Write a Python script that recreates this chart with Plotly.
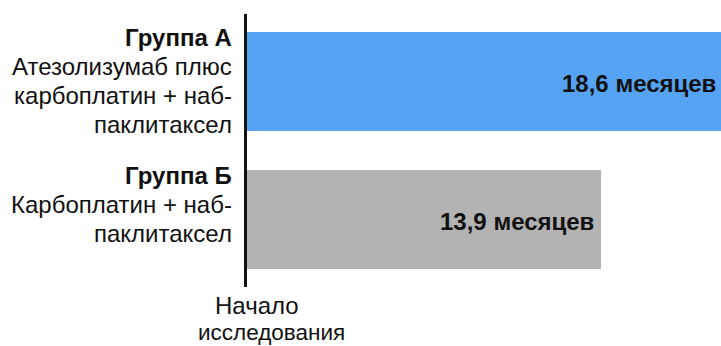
import plotly.graph_objects as go

categories = ["Группа Б", "Группа А"]
values = [13.9, 18.6]
value_labels = ["13,9 месяцев", "18,6 месяцев"]
bar_colors = ["#B3B3B3", "#55A3F2"]
group_titles = ["Группа Б", "Группа А"]
group_desc = [["Карбоплатин + наб-", "паклитаксел"],
              ["Атезолизумаб плюс", "карбоплатин + наб-", "паклитаксел"]]
axis_label = ["Начало", "исследования"]

FONT = "Liberation Sans, Arial, sans-serif"
FS = 24

fig = go.Figure()
fig.add_trace(go.Bar(
    y=list(range(len(categories))), x=values, orientation="h",
    marker=dict(color=bar_colors, line=dict(width=0)),
    width=0.713, hoverinfo="skip", showlegend=False,
))

ann = []
for i, (v, lab) in enumerate(zip(values, value_labels)):
    ann.append(dict(x=v, y=i, xref="x", yref="y", text="<b>" + lab + "</b>",
                    showarrow=False, xanchor="right", yanchor="middle",
                    xshift=-5 if i == 0 else -3, yshift=-2,
                    font=dict(size=FS, color="#111111", family=FONT)))
    lines = ["<b>" + group_titles[i] + "</b>"] + group_desc[i]
    for k, t in enumerate(lines):
        ann.append(dict(x=0, y=i, xref="paper", yref="y", text=t, showarrow=False,
                        xanchor="right", yanchor="middle", xshift=-13,
                        yshift=44 - 29 * k,
                        font=dict(size=FS, color="#111111", family=FONT)))

ann.append(dict(x=0, y=0, xref="paper", yref="paper", text=axis_label[0], showarrow=False,
                xanchor="center", yanchor="middle", xshift=10, yshift=-18,
                font=dict(size=FS, color="#111111", family=FONT)))
ann.append(dict(x=0, y=0, xref="paper", yref="paper", text=axis_label[1], showarrow=False,
                xanchor="center", yanchor="middle", xshift=24, yshift=-45,
                font=dict(size=22.5, color="#111111", family=FONT)))

fig.update_layout(
    width=721, height=346,
    margin=dict(l=247, r=0, t=14, b=59),
    paper_bgcolor="white", plot_bgcolor="white",
    xaxis=dict(range=[0, 18.6], visible=False, fixedrange=True),
    yaxis=dict(range=[-0.49, 1.49], showticklabels=False, showgrid=False, zeroline=False,
               showline=True, linecolor="#111111", linewidth=2.5, ticks="", fixedrange=True),
    annotations=ann,
    bargap=0,
)

fig.write_html("out.html", config={"displayModeBar": False})
